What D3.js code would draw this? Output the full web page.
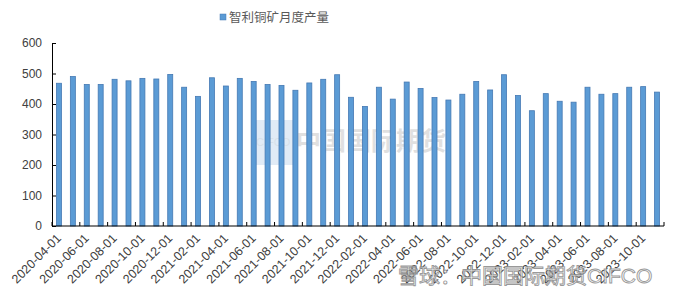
<!DOCTYPE html>
<html>
<head>
<meta charset="utf-8">
<script src="https://cdn.jsdelivr.net/npm/d3@7"></script>
<style>
body{margin:0;background:#fff;}
text{font-family:"Liberation Sans","Noto Sans CJK SC",sans-serif;}
</style>
</head>
<body>
<div id="chart"></div>
<script>
// monthly output, 2020-04 .. 2023-11
var months = [];
for (var y = 2020; y <= 2023; y++) {
    for (var m = 1; m <= 12; m++) {
        if ((y == 2020 && m < 4) || (y == 2023 && m > 11)) continue;
        months.push(y + "-" + (m < 10 ? "0" + m : m) + "-01");
    }
}
var output = [468, 490, 464, 464, 481, 476, 484, 482, 497, 455, 425, 486,
              459, 484, 474, 464, 461, 445, 469, 481, 496, 422, 392, 455,
              416, 472, 451, 421, 413, 432, 474, 446, 496, 428, 378, 434,
              409, 406, 455, 432, 434, 455, 457, 439];
var yTicks = [0, 100, 200, 300, 400, 500, 600];
var seriesName = "智利铜矿月度产量";

var W = 680, H = 295;
var margin = {left: 52, right: 16, top: 43, bottom: 69};

var svg = d3.select("#chart").append("svg").attr("width", W).attr("height", H);

var x = d3.scaleBand().domain(months).range([margin.left, W - margin.right]).paddingInner(0.64).paddingOuter(0.32);
var y = d3.scaleLinear().domain([0, 600]).range([H - margin.bottom, margin.top]);

// watermark in the middle
var wm = svg.append("g").attr("opacity", 0.55);
wm.append("rect").attr("x", 253).attr("y", 120).attr("width", 40).attr("height", 45).attr("fill", "#c9dcef");
wm.append("text").attr("x", 256).attr("y", 146).attr("fill", "#b8c8d8").style("font-size", "11px").text("CIFCO");
wm.append("text").attr("x", 296).attr("y", 150).attr("fill", "#c8c8c8").style("font-size", "25px").style("font-weight", "bold").text("中国国际期货");

// bars
svg.append("g").selectAll("rect").data(output).enter().append("rect")
    .attr("x", function(d, i){ return x(months[i]); })
    .attr("width", x.bandwidth())
    .attr("y", function(d){ return y(d); })
    .attr("height", function(d){ return y(0) - y(d); })
    .attr("fill", "#5b9bd5")
    .attr("stroke", "#4579b3")
    .attr("stroke-width", 0.8);

// y axis
var yAxis = svg.append("g").attr("transform", "translate(" + margin.left + ",0)")
    .call(d3.axisLeft(y).tickValues(yTicks).tickSize(-4).tickPadding(10));
yAxis.select(".domain").attr("stroke", "#000");
yAxis.selectAll(".tick line").attr("stroke", "#000");
yAxis.selectAll("text").attr("fill", "#404040").style("font-size", "12px");

// x axis: ticks between categories, every second one
var step = x.step();
var xg = svg.append("g").attr("transform", "translate(0," + y(0) + ")");
xg.append("line").attr("x1", margin.left).attr("x2", W - margin.right).attr("stroke", "#000");
var boundaries = d3.range(0, months.length + 1, 2);
xg.selectAll(".tk").data(boundaries).enter().append("line")
    .attr("x1", function(d){ return margin.left + d * step; })
    .attr("x2", function(d){ return margin.left + d * step; })
    .attr("y1", 0).attr("y2", -4).attr("stroke", "#000");
xg.selectAll(".lbl").data(months.filter(function(d, i){ return i % 2 == 0; })).enter().append("text")
    .attr("transform", function(d){ return "translate(" + (x(d) + x.bandwidth() / 2 + 3) + ",13) rotate(-45)"; })
    .attr("text-anchor", "end")
    .attr("fill", "#404040")
    .style("font-size", "12.5px")
    .text(function(d){ return d; });

// legend
svg.append("rect").attr("x", 220).attr("y", 14).attr("width", 6).attr("height", 6).attr("fill", "#5b9bd5").attr("stroke", "#4579b3").attr("stroke-width", 0.5);
svg.append("text").attr("x", 229).attr("y", 21.5).attr("fill", "#595959").style("font-size", "12.5px").text(seriesName);

// bottom watermark
svg.append("text").attr("x", 398).attr("y", 283).attr("fill", "#fff").attr("stroke", "#888").attr("stroke-width", 0.9)
    .attr("opacity", 0.85).style("font-size", "21px").text("雪球：中国国际期货CIFCO");
</script>
</body>
</html>
